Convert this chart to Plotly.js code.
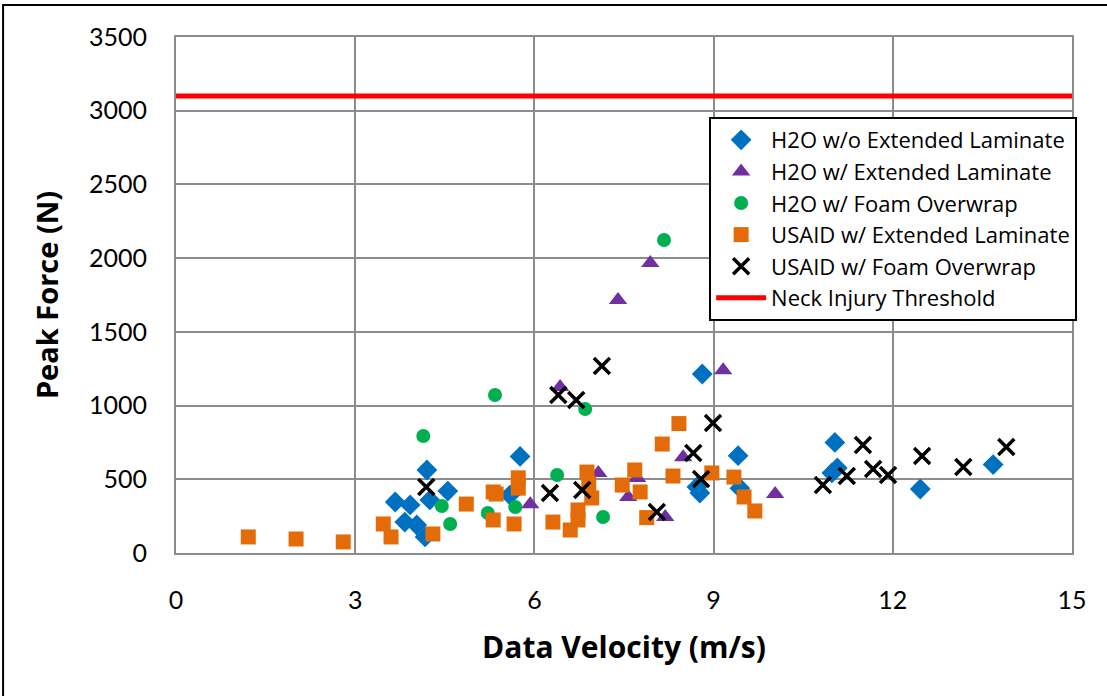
<!DOCTYPE html>
<html>
<head>
<meta charset="utf-8">
<script src="https://cdn.plot.ly/plotly-3.0.1.min.js"></script>
<style>html,body{margin:0;padding:0;background:#fff;overflow:hidden;}#chart{width:1107px;height:696px;}</style>
</head>
<body>
<div id="chart"></div>
<script>
// H2O w/o Extended Laminate
var h2oNoExtX = [3.67, 3.92, 4.20, 4.55, 4.25, 3.83, 4.03, 4.17, 5.76, 5.59, 8.81, 8.72, 8.77, 9.41, 9.44, 11.03, 11.07, 10.98, 12.46, 13.68];
var h2oNoExtY = [346, 326, 563, 420, 360, 210, 190, 109, 655, 393, 1214, 448, 407, 660, 440, 750, 577, 543, 434, 600];
// H2O w/ Extended Laminate
var h2oExtX = [5.93, 6.43, 9.16, 7.07, 7.57, 7.72, 8.49, 8.19, 7.94, 7.40, 10.03];
var h2oExtY = [330, 1126, 1240, 543, 380, 509, 650, 244, 1967, 1716, 400];
// H2O w/ Foam Overwrap
var h2oFoamX = [4.14, 4.45, 4.59, 5.22, 5.68, 5.34, 6.38, 6.85, 7.15, 8.17];
var h2oFoamY = [794, 319, 197, 271, 312, 1072, 529, 977, 244, 2123];
// USAID w/ Extended Laminate
var usaidExtX = [1.21, 2.01, 2.80, 3.47, 3.60, 4.30, 4.86, 5.31, 5.36, 5.31, 5.66, 5.73, 5.73, 6.31, 6.60, 6.73, 6.73, 6.96, 6.88, 6.91, 7.47, 7.68, 7.77, 7.88, 8.14, 8.42, 8.32, 8.97, 9.34, 9.51, 9.69];
var usaidExtY = [109, 95, 75, 197, 109, 129, 332, 414, 400, 224, 197, 510, 440, 210, 156, 224, 292, 373, 549, 470, 461, 563, 414, 240, 739, 878, 522, 543, 515, 380, 285];
// USAID w/ Foam Overwrap
var usaidFoamX = [4.19, 7.13, 6.40, 6.70, 8.99, 6.26, 6.80, 8.66, 8.79, 8.05, 10.83, 11.23, 11.50, 11.67, 11.92, 12.49, 13.18, 13.90];
var usaidFoamY = [448, 1268, 1072, 1038, 882, 407, 427, 678, 502, 278, 461, 522, 733, 570, 529, 658, 583, 719];
// Neck Injury Threshold
var thresholdX = [0, 15];
var thresholdY = [3100, 3100];

var names = ['H2O w/o Extended Laminate', 'H2O w/ Extended Laminate', 'H2O w/ Foam Overwrap', 'USAID w/ Extended Laminate', 'USAID w/ Foam Overwrap', 'Neck Injury Threshold'];

var traces = [
  {x: h2oNoExtX, y: h2oNoExtY, name: names[0], mode: 'markers', type: 'scatter',
   marker: {symbol: 'diamond', size: 16, color: '#0070C0'}},
  {x: h2oExtX, y: h2oExtY, name: names[1], mode: 'markers', type: 'scatter',
   marker: {symbol: 'triangle-up', size: 16, color: '#7030A0'}},
  {x: h2oFoamX, y: h2oFoamY, name: names[2], mode: 'markers', type: 'scatter',
   marker: {symbol: 'circle', size: 14, color: '#00B050'}},
  {x: usaidExtX, y: usaidExtY, name: names[3], mode: 'markers', type: 'scatter',
   marker: {symbol: 'square', size: 15, color: '#E36C09'}},
  {x: usaidFoamX, y: usaidFoamY, name: names[4], mode: 'markers', type: 'scatter',
   marker: {symbol: 'x-thin-open', size: 16, color: '#000', line: {width: 3.5, color: '#000'}}},
  {x: thresholdX, y: thresholdY, name: names[5], mode: 'lines', type: 'scatter',
   line: {color: '#FF0000', width: 5}}
];

var fontFam = 'Lato, "Open Sans", sans-serif';
var titleFam = '"Open Sans", Lato, sans-serif';
var layout = {
  width: 1107, height: 696,
  margin: {l: 176, r: 35, t: 37, b: 143},
  paper_bgcolor: '#fff', plot_bgcolor: '#fff',
  font: {family: fontFam, color: '#000', size: 20},
  showlegend: true,
  legend: {x: 0.595, y: 0.845, xanchor: 'left', yanchor: 'top',
    bordercolor: '#000', borderwidth: 2, bgcolor: '#fff', itemwidth: 50,
    font: {family: titleFam, size: 22, color: '#000'}, tracegroupgap: 0},
  xaxis: {range: [0, 15], tickvals: [0, 3, 6, 9, 12, 15], ticktext: ['0','3','6','9','12','15'],
    showgrid: true, gridcolor: '#8c8c8c', gridwidth: 2,
    showline: true, mirror: true, linecolor: '#8c8c8c', linewidth: 2,
    zeroline: false, ticks: '', ticklabelstandoff: 24,
    tickfont: {size: 25, family: fontFam},
    title: {text: '<b>Data Velocity (m/s)</b>', font: {size: 30, family: titleFam}, standoff: 24}},
  yaxis: {range: [0, 3500], tickvals: [0,500,1000,1500,2000,2500,3000,3500],
    showgrid: true, gridcolor: '#8c8c8c', gridwidth: 2,
    showline: true, mirror: true, linecolor: '#8c8c8c', linewidth: 2,
    zeroline: false, ticks: '', ticklabelstandoff: 22,
    tickfont: {size: 25, family: fontFam},
    title: {text: '<b>Peak Force (N)</b>', font: {size: 29, family: titleFam}, standoff: 22}},
  shapes: [
    {type: 'rect', xref: 'paper', yref: 'paper', x0: -0.193, x1: 1.2, y0: -0.4, y1: 1.062,
     line: {color: '#000', width: 2}, fillcolor: 'rgba(0,0,0,0)', layer: 'above'}
  ]
};

Plotly.newPlot('chart', traces, layout, {displayModeBar: false, staticPlot: true});
</script>
</body>
</html>
